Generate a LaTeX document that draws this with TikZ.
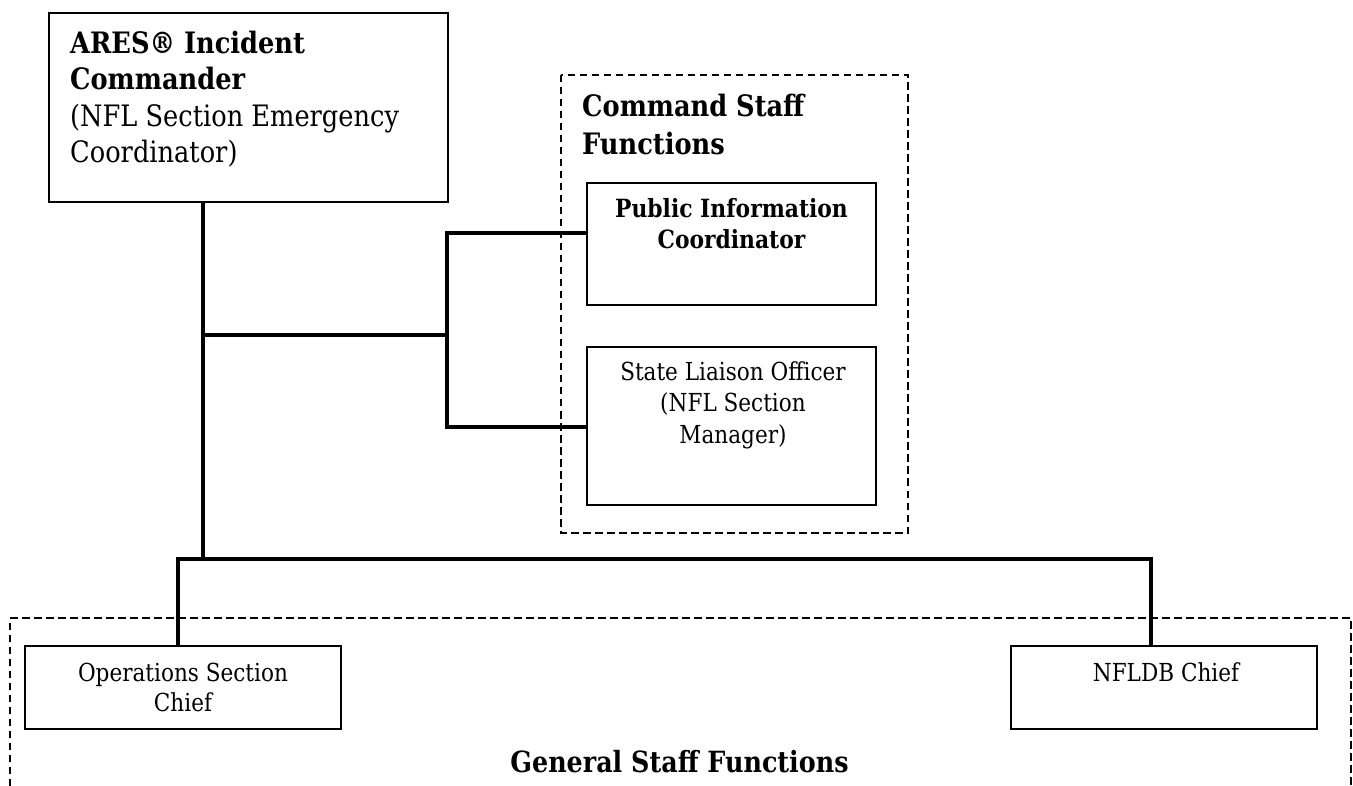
\documentclass[tikz,border=0pt]{standalone}
\usepackage{fontspec}
\setmainfont{DejaVu Serif}[FakeStretch=0.87]
\begin{document}
\begin{tikzpicture}[x={(1pt,0)},y={(0,-1pt)},
  box/.style={draw,line width=1.8pt,inner sep=0pt,rectangle},
  conn/.style={line width=3.4pt,line join=miter},
  dashbox/.style={line width=1.4pt,dash pattern=on 7.5pt off 4.5pt},
  txt/.style={inner sep=0pt,align=center,anchor=base}]
\useasboundingbox (0,0) rectangle (1353,786);
% boxes
\node[box,minimum width=399pt,minimum height=189pt] (ic) at (248.5,107.5) {};
\node[box,minimum width=289pt,minimum height=122pt] (pic) at (731.5,244) {};
\node[box,minimum width=289pt,minimum height=158pt] (slo) at (731.5,426) {};
\node[box,minimum width=316pt,minimum height=83pt] (ops) at (183,687.5) {};
\node[box,minimum width=306pt,minimum height=83pt] (nfldb) at (1164,687.5) {};
% dashed groups
\draw[dashbox] (561,75) rectangle (908,533);
\draw[dashbox] (10,786) -- (10,618) -- (1351,618) -- (1351,786);
% texts (base anchor = baseline of the last line)
\node[inner sep=0pt,align=left,anchor=base west,font=\fontsize{29.5}{36.5}\selectfont] (ictext) at (70,163)
  {\textbf{ARES® Incident}\\\textbf{Commander}\\(NFL Section Emergency\\Coordinator)};
\node[inner sep=0pt,align=left,anchor=base west,font=\fontsize{29.5}{37.6}\selectfont\bfseries] (cstext) at (582,154.6)
  {Command Staff\\Functions};
\node[txt,font=\fontsize{25.1}{31}\selectfont\bfseries] (pictext) at (731.5,249) {Public Information\\Coordinator};
\node[txt,font=\fontsize{24.8}{31.5}\selectfont] (slotext) at (733,443) {State Liaison Officer\\(NFL Section\\Manager)};
\node[txt,font=\fontsize{24.8}{30}\selectfont] (opstext) at (183,711.7) {Operations Section\\Chief};
\node[txt,font=\fontsize{24.8}{30}\selectfont] (nfldbtext) at (1166,681) {NFLDB Chief};
\node[txt,font=\fontsize{29.2}{33}\selectfont\bfseries] (gstext) at (679.5,772) {General Staff Functions};
% connectors
\coordinate (j1) at (203,559);
\coordinate (j2) at (203,335);
\coordinate (bm) at (447,335);
\coordinate (bt) at (447,233);
\coordinate (bb) at (447,427);
\coordinate (busL) at (178,559);
\coordinate (busR) at (1151,559);
\draw[conn] (ic.south -| j1) -- (j1);
\draw[conn] (j2) -- (bm);
\draw[conn] (bt -| pic.west) -- (bt) -- (bb) -- (bb -| slo.west);
\draw[conn] (busL |- ops.north) -- (busL) -- (busR) -- (busR |- nfldb.north);
\end{tikzpicture}
\end{document}
